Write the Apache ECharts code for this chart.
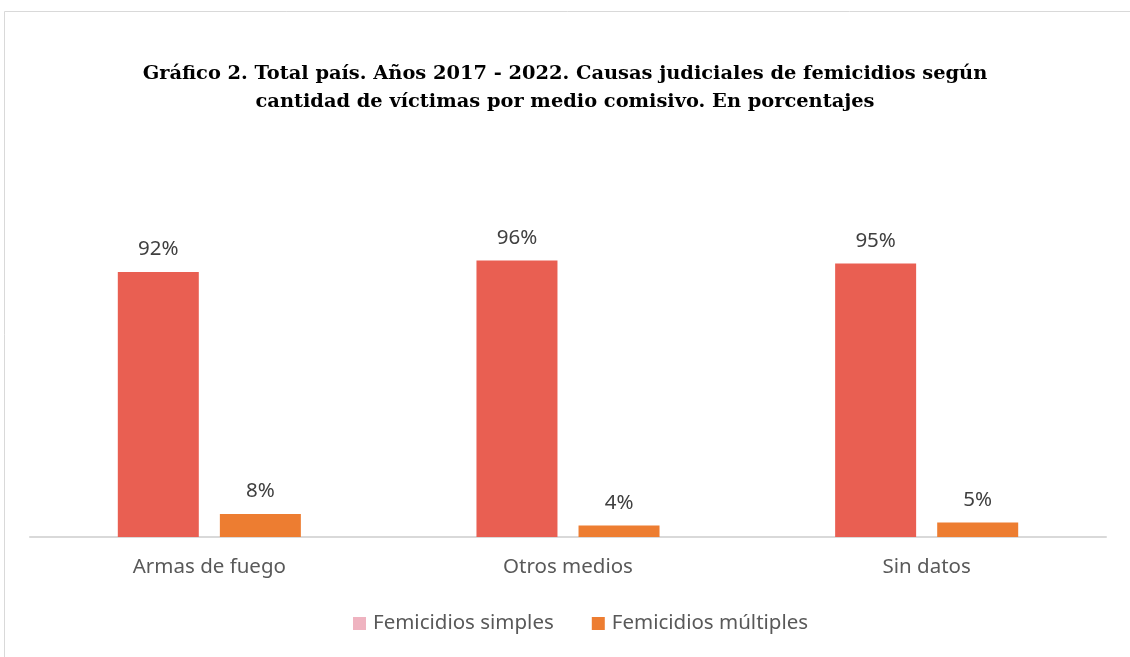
<!DOCTYPE html>
<html>
<head>
<meta charset="utf-8">
<script src="https://cdn.jsdelivr.net/npm/echarts@6/dist/echarts.min.js"></script>
<style>
  html, body { margin: 0; padding: 0; background: #fff; }
  #chart { width: 1130px; height: 657px; }
</style>
</head>
<body>
<div id="chart"></div>
<script>
// datos del gráfico
const categorias = ['Armas de fuego', 'Otros medios', 'Sin datos'];
const simples = [92, 96, 95];
const multiples = [8, 4, 5];
const nombresSeries = ['Femicidios simples', 'Femicidios múltiples'];

const chart = echarts.init(document.getElementById('chart'));

const etiqueta = {
    show: true,
    position: 'top',
    distance: 12,
    formatter: p => p.value + '%',
    color: '#404040',
    fontSize: 20.5,
    fontFamily: 'Noto Sans'
};

chart.setOption({
    animation: false,
    backgroundColor: '#fff',
    title: {
        text: 'Gráfico 2. Total país. Años 2017 - 2022. Causas judiciales de femicidios según\ncantidad de víctimas por medio comisivo. En porcentajes',
        left: 'center',
        top: 55,
        textStyle: {
            fontFamily: 'DejaVu Serif',
            fontWeight: 'bold',
            fontSize: 19.4,
            lineHeight: 28,
            color: '#000'
        }
    },
    graphic: [{
        type: 'rect',
        shape: { x: 4.5, y: 11.5, width: 1140, height: 660 },
        style: { fill: 'none', stroke: '#d9d9d9', lineWidth: 1 },
        silent: true
    }],
    legend: {
        bottom: 18,
        left: 348,
        itemWidth: 13,
        itemHeight: 13,
        itemGap: 38,
        icon: 'rect',
        textStyle: { color: '#595959', fontSize: 20.5, fontFamily: 'Noto Sans', padding: [0, 0, 0, 2] },
        data: [
            { name: nombresSeries[0], itemStyle: { color: '#efb3c0' } },
            { name: nombresSeries[1], itemStyle: { color: '#ed7d31' } }
        ]
    },
    grid: { left: 30, right: 24, top: 249, bottom: 120 },
    xAxis: {
        type: 'category',
        data: categorias,
        axisLine: { lineStyle: { color: '#d9d9d9', width: 2 } },
        axisTick: { show: false },
        axisLabel: { color: '#595959', fontSize: 20.5, fontFamily: 'Noto Sans', margin: 20 }
    },
    yAxis: {
        type: 'value',
        min: 0,
        max: 100,
        show: false,
        splitLine: { show: false }
    },
    series: [
        {
            name: nombresSeries[0],
            type: 'bar',
            data: simples,
            barWidth: 81,
            barGap: '26%',
            itemStyle: { color: '#e95f52' },
            label: etiqueta
        },
        {
            name: nombresSeries[1],
            type: 'bar',
            data: multiples,
            barWidth: 81,
            itemStyle: { color: '#ed7d31' },
            label: etiqueta
        }
    ]
});
</script>
</body>
</html>
